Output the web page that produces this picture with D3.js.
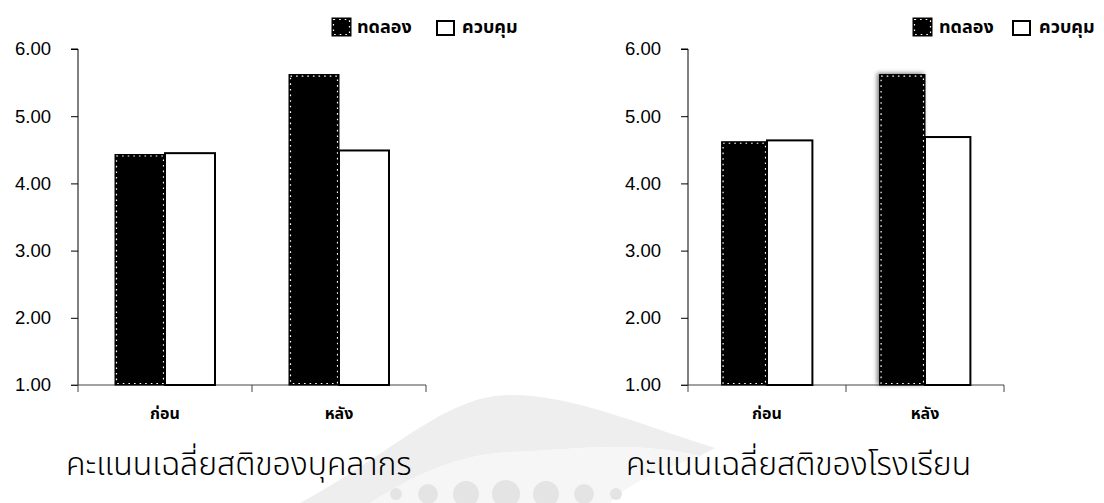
<!DOCTYPE html>
<html>
<head>
<meta charset="utf-8">
<script src="https://cdn.jsdelivr.net/npm/d3@7"></script>
<style>
  html, body { margin: 0; padding: 0; background: #fff; }
  svg { display: block; }
  .tick-num { font-family: "Liberation Sans", Arial, sans-serif; font-size: 18.5px; fill: #000; }
  .thai-bold { font-family: "Noto Sans Thai", "Noto Sans", "DejaVu Sans", sans-serif; font-weight: bold; font-size: 16px; fill: #000; }
  .thai-legend { font-family: "Noto Sans Thai", "Noto Sans", "DejaVu Sans", sans-serif; font-weight: bold; font-size: 18px; fill: #000; }
  .thai-title { font-family: "Noto Sans Thai", "Noto Sans", "DejaVu Sans", sans-serif; font-weight: 300; font-size: 32px; fill: #000; }
</style>
</head>
<body>
<svg id="fig" width="1104" height="503"></svg>
<script>
// Mean mindfulness scores, before / after, experimental vs control groups
const categories = ["ก่อน", "หลัง"];
const seriesNames = ["ทดลอง", "ควบคุม"];
const staffExperimental = [4.43, 5.62];
const staffControl = [4.45, 4.49];
const schoolExperimental = [4.62, 5.62];
const schoolControl = [4.64, 4.69];
const yTicks = [1, 2, 3, 4, 5, 6];
const titles = ["คะแนนเฉลี่ยสติของบุคลากร", "คะแนนเฉลี่ยสติของโรงเรียน"];

const svg = d3.select("#fig");
const defs = svg.append("defs");
const shadow = defs.append("filter").attr("id", "barShadow")
  .attr("x", "-30%").attr("y", "-10%").attr("width", "160%").attr("height", "130%");
shadow.append("feDropShadow").attr("dx", -2).attr("dy", -1)
  .attr("stdDeviation", 2.2).attr("flood-color", "#000").attr("flood-opacity", 0.5);

// faint background emblem
const wm = svg.append("g").attr("class", "emblem");
wm.append("path")
  .attr("d", "M300,503 C390,455 445,395 510,395 C575,395 640,425 715,448 L700,456 C630,440 575,450 512,452 C455,454 410,478 370,503 Z")
  .attr("fill", "#eeeeee");
wm.append("path")
  .attr("d", "M370,503 C410,478 455,454 512,452 C575,450 630,440 700,456 C660,470 625,485 610,503 Z")
  .attr("fill", "#f6f6f6");
const dots = [[396, 6], [428, 10], [466, 13], [506, 14], [546, 13], [584, 10], [616, 6]];
wm.selectAll("circle").data(dots).join("circle")
  .attr("cx", d => d[0]).attr("cy", 494).attr("r", d => d[1]).attr("fill", "#e4e4e4");

function drawBlackRect(g, x, y, w, h, withShadow) {
  const r = g.append("rect").attr("x", x).attr("y", y).attr("width", w).attr("height", h)
    .attr("fill", "#000").attr("stroke", "#000").attr("stroke-width", 1);
  if (withShadow) r.attr("filter", "url(#barShadow)");
  g.append("rect").attr("x", x + 1.5).attr("y", y + 1.5)
    .attr("width", Math.max(0, w - 3)).attr("height", Math.max(0, h - 3))
    .attr("fill", "none").attr("stroke", "#fff").attr("stroke-width", 1.2)
    .attr("stroke-dasharray", "1.6 4");
}

function drawChart(opts) {
  const g = svg.append("g");
  const y = d3.scaleLinear().domain([1, 6]).range([385, 49]);
  const x0 = d3.scaleBand().domain(categories).range(opts.xRange).padding(0);
  const x1 = d3.scaleBand().domain(seriesNames).range([0, x0.bandwidth()])
    .paddingInner(0).paddingOuter(0.74);

  // y axis
  const yAxis = d3.axisLeft(y).tickValues(yTicks).tickFormat(d3.format(".2f"))
    .tickSize(7).tickPadding(20);
  const ya = g.append("g").attr("transform", `translate(${opts.xRange[0]},0)`).call(yAxis);
  ya.select(".domain").attr("stroke", "#000").attr("d", `M-7,${y(6)}H0V${y(1)}`);
  ya.selectAll(".tick line").attr("stroke", "#000");
  ya.selectAll(".tick text").attr("class", "tick-num").attr("font-size", null).attr("font-family", null);

  // x axis with boundary ticks
  const xa = g.append("g").attr("transform", `translate(0,${y(1)})`);
  xa.append("line").attr("x1", opts.xRange[0] - 7).attr("x2", opts.xRange[1])
    .attr("stroke", "#444").attr("stroke-width", 1);
  const bounds = categories.map(c => x0(c)).concat([opts.xRange[1]]);
  xa.selectAll("line.bt").data(bounds).join("line").attr("class", "bt")
    .attr("x1", d => d).attr("x2", d => d).attr("y1", 0).attr("y2", 7)
    .attr("stroke", "#444");
  xa.selectAll("text").data(categories).join("text")
    .attr("class", "thai-bold")
    .attr("x", d => x0(d) + x0.bandwidth() / 2).attr("y", 34)
    .attr("text-anchor", "middle").text(d => d);

  // bars
  categories.forEach((c, i) => {
    const bx = x0(c);
    const ve = opts.experimental[i], vc = opts.control[i];
    drawBlackRect(g, bx + x1(seriesNames[0]), y(ve), x1.bandwidth(), y(1) - y(ve),
      opts.shadowIndex === i);
    g.append("rect").attr("x", bx + x1(seriesNames[1])).attr("y", y(vc))
      .attr("width", x1.bandwidth()).attr("height", y(1) - y(vc))
      .attr("fill", "#fff").attr("stroke", "#000").attr("stroke-width", 2);
  });

  // legend
  const lg = g.append("g");
  drawBlackRect(lg, opts.legendX[0], 18, 19, 18, false);
  lg.append("text").attr("class", "thai-legend").attr("x", opts.legendX[1]).attr("y", 33).text(seriesNames[0]);
  lg.append("rect").attr("x", opts.legendX[2]).attr("y", 21).attr("width", 17).attr("height", 14)
    .attr("fill", "#fff").attr("stroke", "#000").attr("stroke-width", 2);
  lg.append("text").attr("class", "thai-legend").attr("x", opts.legendX[3]).attr("y", 33).text(seriesNames[1]);

  // caption
  g.append("text").attr("class", "thai-title")
    .attr("x", opts.titleX).attr("y", 475).text(opts.title);
}

drawChart({
  xRange: [78, 426], experimental: staffExperimental, control: staffControl,
  legendX: [332, 357, 437, 462], title: titles[0], titleX: 66, shadowIndex: -1
});
drawChart({
  xRange: [688, 1004], experimental: schoolExperimental, control: schoolControl,
  legendX: [913, 939, 1013, 1039], title: titles[1], titleX: 626, shadowIndex: 1
});
</script>
</body>
</html>
